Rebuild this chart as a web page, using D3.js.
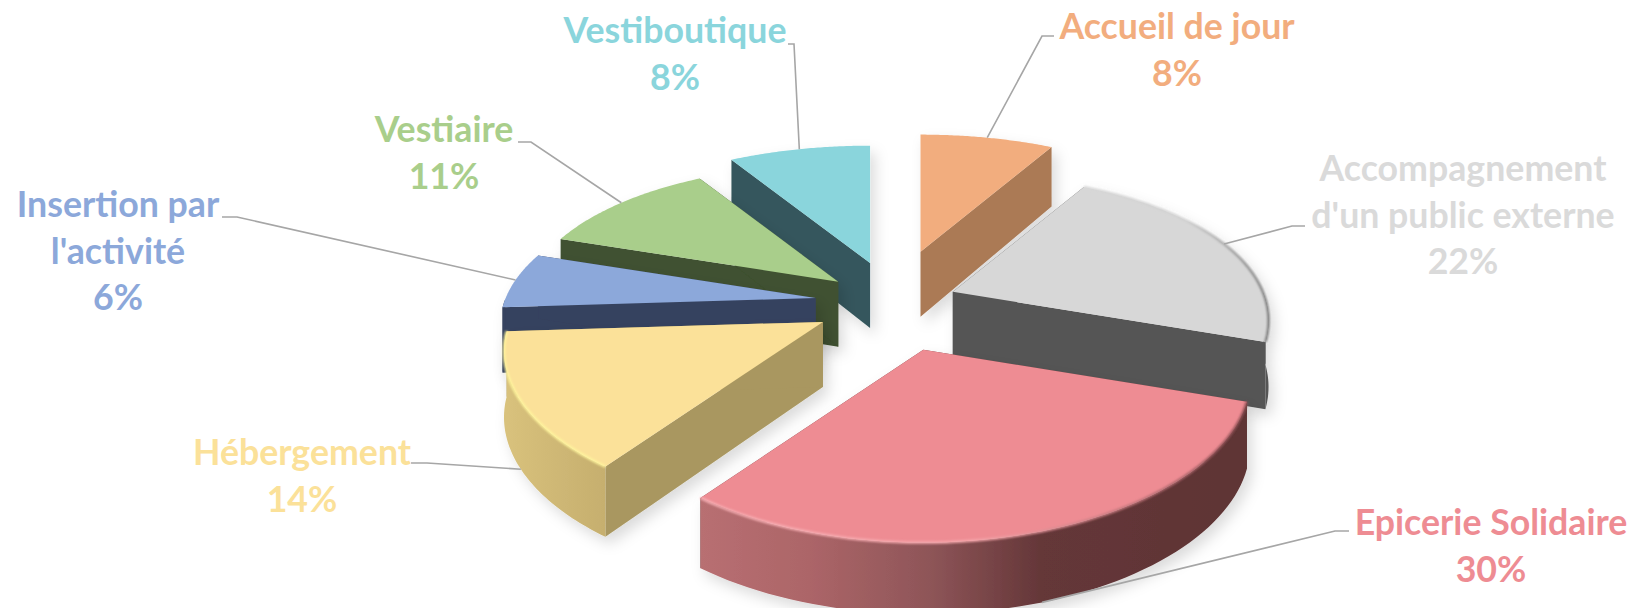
<!DOCTYPE html>
<html>
<head>
<meta charset="utf-8">
<script src="https://cdnjs.cloudflare.com/ajax/libs/d3/7.8.5/d3.min.js"></script>
<style>
  html, body { margin: 0; padding: 0; background: #fff; overflow: hidden; }
  text { font-family: Lato, "Open Sans", sans-serif; font-weight: 700; font-size: 35.7px; }
</style>
</head>
<body>
<svg></svg>
<script>
// data, clockwise from 12 o'clock
let categories = ['Accueil de jour', 'Accompagnement\nd\'un public externe', 'Epicerie Solidaire', 'Hébergement', 'Insertion par\nl\'activité', 'Vestiaire', 'Vestiboutique']
let percents = [8, 22, 30, 14, 6, 11, 8]
// slice sizes as drawn, the printed percents are rounded
let sliceShares = [8.2, 22, 29.8, 14, 6.1, 11.2, 8.7]

// colours per slice
let topColors = ['#F2AD7E', '#D7D7D7', '#EE8C93', '#FBE199', '#8CA8DA', '#A9CE8B', '#8AD5DC']
let labelColors = ['#F2AD7E', '#DADADA', '#EE8C93', '#FBE199', '#8CA8DA', '#A9CE8B', '#8AD5DC']
let faceColors = ['#AB7A55', '#555555', '#6A3B3D', '#A99760', '#36425E', '#3F5130', '#34575D']
let arcFills = ['#AB7A55', '#555555', 'url(#wallPink)', 'url(#wallYellow)', '#36425E', '#3F5130', '#34575D']
let rimColors = [null, 'url(#rimGray)', 'url(#rimPink)', '#FFF59D', null, null, null]

// layout per slice
let explode = [108, 64, 100, 80, 78, 70, 85]
let radiusScale = [1, 1, 1.035, 1.01, 1, 1, 1]
let labelX = [1177, 1463, 1491, 302, 118, 444, 675]
let labelY = [27, 169, 523, 453, 205, 130, 31]
let elbows = [[[1054, 36], [1042, 36]], [[1305, 226], [1292, 226]], [[1349, 531], [1335, 531]], [[411, 463], [427, 463]], [[222, 217], [237, 217]], [[518, 142], [531, 142]], [[788, 44], [794, 44]]]
let leaderOnWall = [false, false, true, true, false, false, false]

let width = 1633, height = 608
let cx = 893, cy = 303
let radius = 310, perspective = 0.19, thickness = 65
let tilt = d3.scaleLinear().domain([-1, 1]).range([0.45, 0.487])

let svg = d3.select('svg').attr('width', width).attr('height', height)
let defs = svg.append('defs')

let shadow = defs.append('filter').attr('id', 'shadow')
  .attr('x', '-15%').attr('y', '-15%').attr('width', '130%').attr('height', '130%')
shadow.append('feDropShadow').attr('dx', 5).attr('dy', 7).attr('stdDeviation', 7)
  .attr('flood-color', '#000').attr('flood-opacity', 0.14)
defs.append('filter').attr('id', 'soft').append('feGaussianBlur').attr('stdDeviation', 1)

function addGradient(id, stops) {
  let g = defs.append('linearGradient').attr('id', id)
  stops.forEach(s => g.append('stop').attr('offset', s[0]).attr('stop-color', s[1]))
}
addGradient('wallPink', [[0, '#B86F72'], [0.2, '#AC6568'], [0.42, '#8E5558'], [0.62, '#653739'], [1, '#5E3434']])
addGradient('wallYellow', [[0, '#D9C27C'], [0.6, '#CDB674'], [1, '#C6AF6E']])
addGradient('rimPink', [[0, '#F7B0B5'], [0.5, '#F6A6AB'], [0.75, '#C87B81'], [1, '#8F5055']])
addGradient('rimGray', [[0, '#D7D7D7'], [0.55, '#D0D0D0'], [1, '#7E7E7E']])

let pie = d3.pie().sort(null).value(d => d)
let arcs = pie(sliceShares)
let line = d3.line()

// a point of slice i: angle a, t = 0 at the apex, 1 on the rim, z = 0 on top, 1 at the bottom
function project(i, a, t, z) {
  let mid = (arcs[i].startAngle + arcs[i].endAngle) / 2
  let ox = cx + explode[i] * Math.sin(mid)
  let oy = cy - explode[i] * Math.cos(mid) * 0.49
  let x = Math.sin(a) * t, y = -Math.cos(a) * t
  let q = radius * radiusScale[i] / (1 - perspective * y)
  return [ox + x * q, oy + y * q * tilt(y) + z * thickness * (1 + 0.1 * y)]
}

function rimAngles(i) {
  let a0 = arcs[i].startAngle, a1 = arcs[i].endAngle
  return d3.range(0, 61).map(k => a0 + (a1 - a0) * k / 60)
}

function rimPoints(i, z) {
  return rimAngles(i).map(a => project(i, a, 1, z))
}

// only the part of the outer wall that looks at the viewer
function frontRim(i, z) {
  return rimAngles(i).filter(a => Math.cos(a) < 0).map(a => project(i, a, 1, z))
}

// back slices first, so the front ones cover them
let order = d3.range(arcs.length).sort((p, q) => {
  let mp = (arcs[p].startAngle + arcs[p].endAngle) / 2
  let mq = (arcs[q].startAngle + arcs[q].endAngle) / 2
  return Math.cos(mq) - Math.cos(mp)
})

let slices = svg.append('g').selectAll('g')
  .data(order)
  .enter()
  .append('g')
  .attr('filter', 'url(#shadow)')

slices.each(function (i) {
  let g = d3.select(this)
  let d = arcs[i]
  ;[d.startAngle, d.endAngle].forEach(a => {
    g.append('path')
      .attr('d', line([project(i, a, 0, 0), project(i, a, 1, 0), project(i, a, 1, 1), project(i, a, 0, 1)]) + 'Z')
      .attr('fill', faceColors[i])
  })
  let front = frontRim(i, 0)
  if (front.length) {
    g.append('path')
      .attr('d', line(front.concat(frontRim(i, 1).reverse())) + 'Z')
      .attr('fill', arcFills[i])
  }
  g.append('path')
    .attr('d', line([project(i, d.startAngle, 0, 0)].concat(rimPoints(i, 0))) + 'Z')
    .attr('fill', topColors[i])
  if (rimColors[i]) {
    g.append('path')
      .attr('d', line(rimPoints(i, 0)))
      .attr('fill', 'none')
      .attr('stroke', rimColors[i])
      .attr('stroke-width', 2.5)
      .attr('filter', 'url(#soft)')
  }
})

// leader lines
svg.append('g').selectAll('path')
  .data(arcs)
  .enter()
  .append('path')
  .attr('fill', 'none')
  .attr('stroke', '#A6A6A6')
  .attr('stroke-width', 1.6)
  .attr('d', (d, i) => {
    let mid = (d.startAngle + d.endAngle) / 2
    return line(elbows[i].concat([project(i, mid, 1, leaderOnWall[i] ? 1 : 0)]))
  })

// labels, the percentage goes on the last line
let labels = svg.append('g').selectAll('text')
  .data(categories)
  .enter()
  .append('text')
  .attr('text-anchor', 'middle')
  .attr('fill', (d, i) => labelColors[i])

labels.each(function (name, i) {
  let rows = name.split('\n').concat([percents[i] + '%'])
  d3.select(this).selectAll('tspan')
    .data(rows)
    .enter()
    .append('tspan')
    .attr('x', labelX[i])
    .attr('y', (r, k) => labelY[i] + 12 + k * 46.5)
    .text(r => r)
})
</script>
</body>
</html>
